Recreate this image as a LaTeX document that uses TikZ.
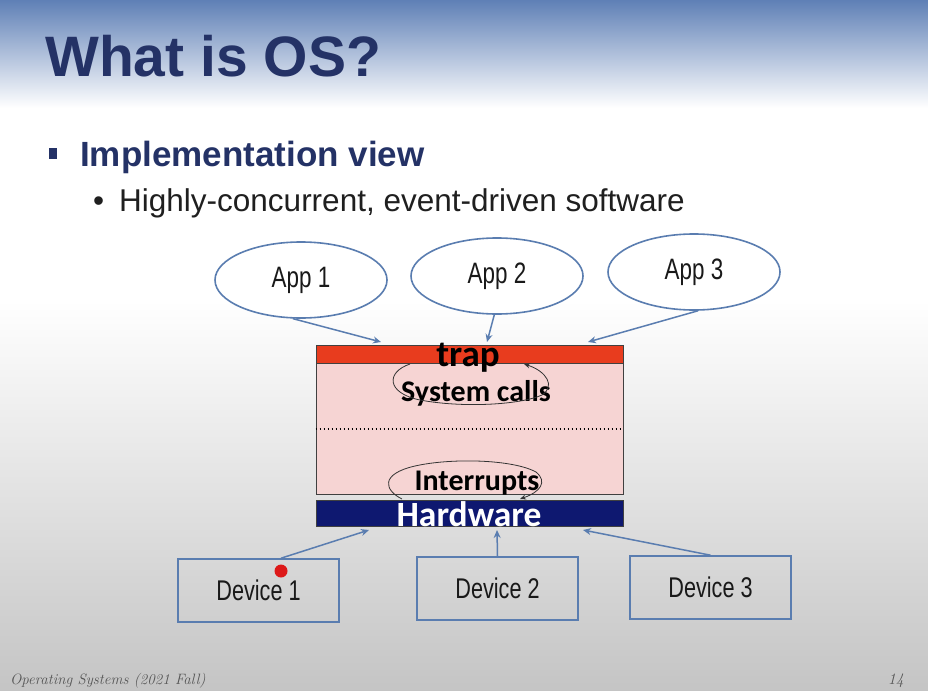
\documentclass[tikz,border=0pt]{standalone}
\usepackage{fontspec}
\setmainfont{Liberation Sans}
\newfontfamily\calib{Carlito}
\newfontfamily\narrowsans[FakeStretch=0.76]{Liberation Sans}
\newfontfamily\footfont{Latin Modern Roman}
\usetikzlibrary{arrows.meta,calc,shapes.geometric}
\definecolor{slideblue}{HTML}{5F80B6}
\definecolor{titlenavy}{HTML}{243266}
\definecolor{linkblue}{HTML}{5A7DB0}
\definecolor{traped}{HTML}{E83C1E}
\definecolor{kernpink}{HTML}{F6D4D3}
\definecolor{hwnavy}{HTML}{0E1870}
\definecolor{footgray}{HTML}{555555}
\tikzset{
  appnode/.style={ellipse, draw=linkblue, line width=1.6pt, fill=white,
    minimum width=172pt, minimum height=76pt, inner sep=0pt,
    font=\narrowsans\fontsize{29.5}{32}\selectfont, text=black!90},
  devnode/.style={rectangle, draw=linkblue, line width=1.6pt,
    minimum width=161pt, minimum height=63pt, inner sep=0pt,
    font=\narrowsans\fontsize{28.5}{32}\selectfont, text=black!90},
  link/.style={draw=linkblue, line width=1.5pt, -{Stealth[length=8pt,width=7pt]}},
  loop/.style={draw=black!80, line width=0.8pt, -{Stealth[length=6pt,width=5pt]}},
  layer/.style={rectangle, draw=black!75, line width=0.8pt, minimum width=307pt, inner sep=0pt},
  barlabel/.style={font=\calib\bfseries\fontsize{30}{32}\selectfont, inner sep=0pt},
}
\begin{document}
\begin{tikzpicture}[x=1pt,y=-1pt]
\useasboundingbox (0,0) rectangle (928,690);
% slide background
\shade[top color=slideblue, bottom color=white] (0,0) rectangle (928,108);
\fill[white] (0,108) rectangle (928,300);
\shade[top color=white, bottom color=black!23] (0,300) rectangle (928,690);

% heading and bullets
\node[anchor=base west, inner sep=0pt, text=titlenavy, font=\bfseries\fontsize{57}{60}\selectfont] (title) at (45,77) {What is OS?};
\fill[titlenavy] (49,148) rectangle (57,159);
\node[anchor=base west, inner sep=0pt, text=titlenavy, font=\bfseries\fontsize{35}{40}\selectfont] (impl) at (80,166) {Implementation view};
\node[anchor=base west, inner sep=0pt, text=black!88, font=\fontsize{31.5}{34}\selectfont] (conc) at (93,211) {\textbullet\hspace{15pt}Highly-concurrent, event-driven software};

% applications
\node[appnode] (app1) at (301,280) {App 1};
\node[appnode] (app2) at (497,276) {App 2};
\node[appnode] (app3) at (694,272) {App 3};

% kernel layers
\node[layer, fill=kernpink, minimum height=131pt] (kernel) at (469.5,428.5) {};
\draw[black, line width=1.8pt, dash pattern=on 1.8pt off 2.2pt] (kernel.west |- 0,429) -- (kernel.east |- 0,429);
\node[layer, fill=traped, minimum height=18pt] (trap) at (469.5,354) {};
\node[barlabel, text=black, anchor=base, font=\calib\bfseries\fontsize{37}{40}\selectfont] (traplbl) at (468,366) {trap};
\node[layer, fill=hwnavy, minimum height=26pt] (hw) at (469.5,513) {};
\node[barlabel, text=white, anchor=base, font=\calib\bfseries\fontsize{35.5}{38}\selectfont] (hwlbl) at (469,526) {Hardware};
\node[barlabel, anchor=base] (sys) at (476,401) {System calls};
\node[barlabel, anchor=base] (irq) at (477,490) {Interrupts};

% system call and interrupt loops
\draw[loop] (410,364) .. controls (386,372) and (386,393) .. (420,400)
  .. controls (462,408) and (520,405) .. (542,395)
  .. controls (556,386) and (546,371) .. (524,364);
\draw[loop] (402,499) .. controls (384,490) and (380,474) .. (415,466)
  .. controls (450,458) and (512,459) .. (536,472)
  .. controls (548,482) and (540,492) .. (520,499);

% devices
\node[devnode] (dev1) at (258.5,590.5) {Device 1};
\node[devnode] (dev2) at (497.5,588.5) {Device 2};
\node[devnode] (dev3) at (710.5,587.5) {Device 3};
\fill[red!85!black!90] (281,571) circle (6.5pt);

% connectors
\coordinate (t1) at (381,342);
\coordinate (t2) at (487,342);
\coordinate (t3) at (588,342);
\coordinate (h1) at (369,530);
\coordinate (h2) at (497,530);
\coordinate (h3) at (583,530);
\draw[link] (app1.-102) -- (t1);
\draw[link] (app2.-94) -- (t2);
\draw[link] (app3.-84) -- (t3);
\draw[link] (dev1.north -| 281,0) -- (h1);
\draw[link] (dev2.north) -- (h2);
\draw[link] (dev3.north) -- (h3);

% footer
\node[anchor=base west, inner sep=0pt, text=footgray, font=\footfont\itshape\fontsize{15}{18}\selectfont] (foot) at (10,684) {Operating Systems (2021 Fall)};
\node[anchor=base east, inner sep=0pt, text=footgray, font=\footfont\itshape\fontsize{16}{18}\selectfont] (page) at (904,684) {14};
\end{tikzpicture}
\end{document}
